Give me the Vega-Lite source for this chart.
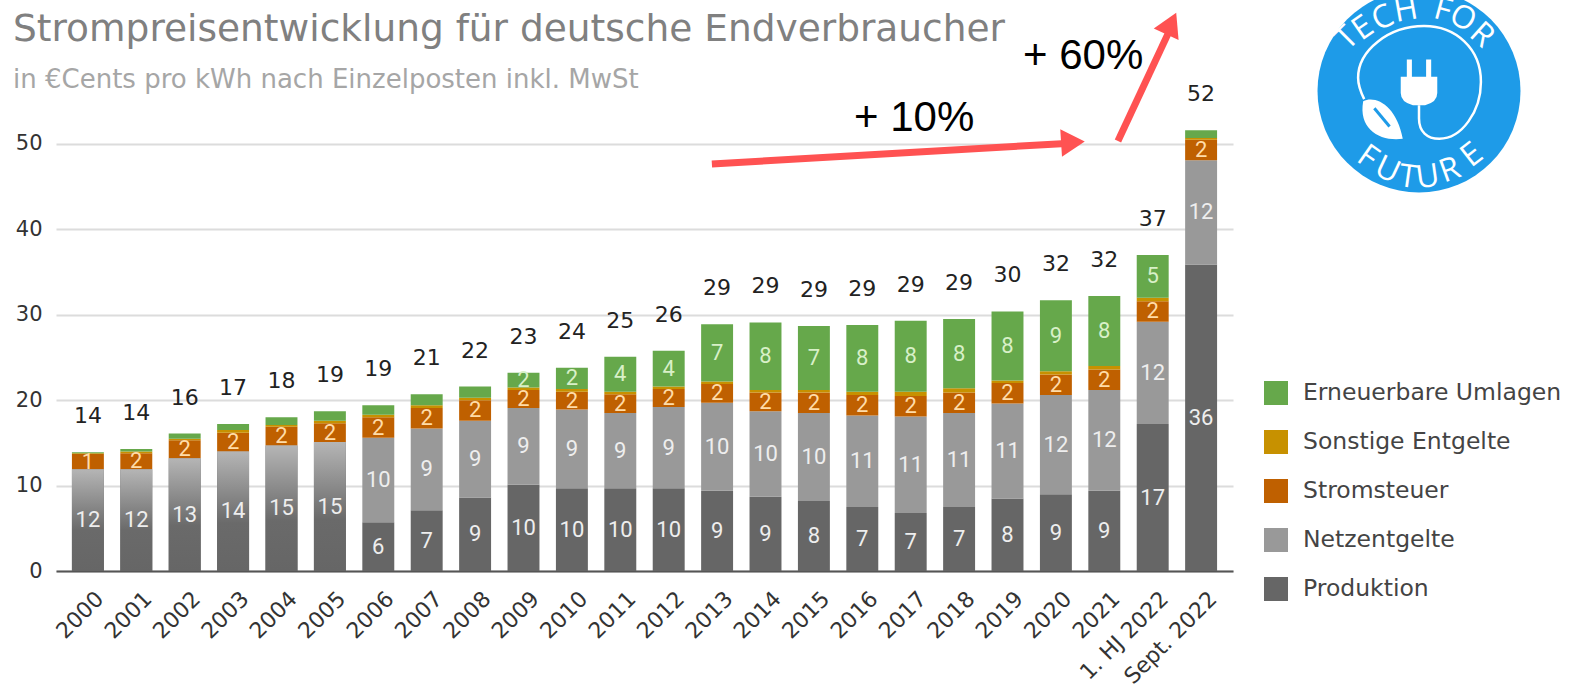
{
"$schema":"https://vega.github.io/schema/vega-lite/v6.json",
"width":1177,"height":561,
"autosize":{"type":"none"},
"padding":{"left":56,"top":10,"right":342,"bottom":121},
"background":"white",
"title":{"text":"Strompreisentwicklung für deutsche Endverbraucher","subtitle":"in €Cents pro kWh nach Einzelposten inkl. MwSt","anchor":"start","frame":"group","dx":-43,"dy":103,"offset":0,"font":"DejaVu Sans","fontSize":37.5,"fontWeight":"normal","color":"#808080","subtitleFont":"DejaVu Sans","subtitleFontSize":26,"subtitleColor":"#a6a6a6","subtitlePadding":18},
"datasets":{
"posten":[
{"jahr":"2000","posten":"Produktion","rang":1,"wert":11.9,"label":"12"},{"jahr":"2000","posten":"Netzentgelte","rang":2,"wert":0,"label":""},{"jahr":"2000","posten":"Stromsteuer","rang":3,"wert":1.8,"label":"1"},{"jahr":"2000","posten":"Sonstige Entgelte","rang":4,"wert":0.1,"label":""},{"jahr":"2000","posten":"Erneuerbare Umlagen","rang":5,"wert":0.1,"label":""},
{"jahr":"2001","posten":"Produktion","rang":1,"wert":11.9,"label":"12"},{"jahr":"2001","posten":"Netzentgelte","rang":2,"wert":0,"label":""},{"jahr":"2001","posten":"Stromsteuer","rang":3,"wert":1.9,"label":"2"},{"jahr":"2001","posten":"Sonstige Entgelte","rang":4,"wert":0.2,"label":""},{"jahr":"2001","posten":"Erneuerbare Umlagen","rang":5,"wert":0.3,"label":""},
{"jahr":"2002","posten":"Produktion","rang":1,"wert":13.2,"label":"13"},{"jahr":"2002","posten":"Netzentgelte","rang":2,"wert":0,"label":""},{"jahr":"2002","posten":"Stromsteuer","rang":3,"wert":2.1,"label":"2"},{"jahr":"2002","posten":"Sonstige Entgelte","rang":4,"wert":0.2,"label":""},{"jahr":"2002","posten":"Erneuerbare Umlagen","rang":5,"wert":0.6,"label":""},
{"jahr":"2003","posten":"Produktion","rang":1,"wert":14,"label":"14"},{"jahr":"2003","posten":"Netzentgelte","rang":2,"wert":0,"label":""},{"jahr":"2003","posten":"Stromsteuer","rang":3,"wert":2.2,"label":"2"},{"jahr":"2003","posten":"Sonstige Entgelte","rang":4,"wert":0.3,"label":""},{"jahr":"2003","posten":"Erneuerbare Umlagen","rang":5,"wert":0.7,"label":""},
{"jahr":"2004","posten":"Produktion","rang":1,"wert":14.7,"label":"15"},{"jahr":"2004","posten":"Netzentgelte","rang":2,"wert":0,"label":""},{"jahr":"2004","posten":"Stromsteuer","rang":3,"wert":2.2,"label":"2"},{"jahr":"2004","posten":"Sonstige Entgelte","rang":4,"wert":0.2,"label":""},{"jahr":"2004","posten":"Erneuerbare Umlagen","rang":5,"wert":0.9,"label":""},
{"jahr":"2005","posten":"Produktion","rang":1,"wert":15.1,"label":"15"},{"jahr":"2005","posten":"Netzentgelte","rang":2,"wert":0,"label":""},{"jahr":"2005","posten":"Stromsteuer","rang":3,"wert":2.2,"label":"2"},{"jahr":"2005","posten":"Sonstige Entgelte","rang":4,"wert":0.3,"label":""},{"jahr":"2005","posten":"Erneuerbare Umlagen","rang":5,"wert":1.1,"label":""},
{"jahr":"2006","posten":"Produktion","rang":1,"wert":5.7,"label":"6"},{"jahr":"2006","posten":"Netzentgelte","rang":2,"wert":9.9,"label":"10"},{"jahr":"2006","posten":"Stromsteuer","rang":3,"wert":2.4,"label":"2"},{"jahr":"2006","posten":"Sonstige Entgelte","rang":4,"wert":0.3,"label":""},{"jahr":"2006","posten":"Erneuerbare Umlagen","rang":5,"wert":1.1,"label":""},
{"jahr":"2007","posten":"Produktion","rang":1,"wert":7.1,"label":"7"},{"jahr":"2007","posten":"Netzentgelte","rang":2,"wert":9.6,"label":"9"},{"jahr":"2007","posten":"Stromsteuer","rang":3,"wert":2.4,"label":"2"},{"jahr":"2007","posten":"Sonstige Entgelte","rang":4,"wert":0.3,"label":""},{"jahr":"2007","posten":"Erneuerbare Umlagen","rang":5,"wert":1.3,"label":""},
{"jahr":"2008","posten":"Produktion","rang":1,"wert":8.6,"label":"9"},{"jahr":"2008","posten":"Netzentgelte","rang":2,"wert":9,"label":"9"},{"jahr":"2008","posten":"Stromsteuer","rang":3,"wert":2.4,"label":"2"},{"jahr":"2008","posten":"Sonstige Entgelte","rang":4,"wert":0.3,"label":""},{"jahr":"2008","posten":"Erneuerbare Umlagen","rang":5,"wert":1.3,"label":""},
{"jahr":"2009","posten":"Produktion","rang":1,"wert":10.1,"label":"10"},{"jahr":"2009","posten":"Netzentgelte","rang":2,"wert":9,"label":"9"},{"jahr":"2009","posten":"Stromsteuer","rang":3,"wert":2.1,"label":"2"},{"jahr":"2009","posten":"Sonstige Entgelte","rang":4,"wert":0.3,"label":""},{"jahr":"2009","posten":"Erneuerbare Umlagen","rang":5,"wert":1.7,"label":"2"},
{"jahr":"2010","posten":"Produktion","rang":1,"wert":9.7,"label":"10"},{"jahr":"2010","posten":"Netzentgelte","rang":2,"wert":9.2,"label":"9"},{"jahr":"2010","posten":"Stromsteuer","rang":3,"wert":2.1,"label":"2"},{"jahr":"2010","posten":"Sonstige Entgelte","rang":4,"wert":0.3,"label":""},{"jahr":"2010","posten":"Erneuerbare Umlagen","rang":5,"wert":2.5,"label":"2"},
{"jahr":"2011","posten":"Produktion","rang":1,"wert":9.7,"label":"10"},{"jahr":"2011","posten":"Netzentgelte","rang":2,"wert":8.8,"label":"9"},{"jahr":"2011","posten":"Stromsteuer","rang":3,"wert":2.2,"label":"2"},{"jahr":"2011","posten":"Sonstige Entgelte","rang":4,"wert":0.3,"label":""},{"jahr":"2011","posten":"Erneuerbare Umlagen","rang":5,"wert":4.1,"label":"4"},
{"jahr":"2012","posten":"Produktion","rang":1,"wert":9.7,"label":"10"},{"jahr":"2012","posten":"Netzentgelte","rang":2,"wert":9.5,"label":"9"},{"jahr":"2012","posten":"Stromsteuer","rang":3,"wert":2.1,"label":"2"},{"jahr":"2012","posten":"Sonstige Entgelte","rang":4,"wert":0.3,"label":""},{"jahr":"2012","posten":"Erneuerbare Umlagen","rang":5,"wert":4.2,"label":"4"},
{"jahr":"2013","posten":"Produktion","rang":1,"wert":9.4,"label":"9"},{"jahr":"2013","posten":"Netzentgelte","rang":2,"wert":10.3,"label":"10"},{"jahr":"2013","posten":"Stromsteuer","rang":3,"wert":2.2,"label":"2"},{"jahr":"2013","posten":"Sonstige Entgelte","rang":4,"wert":0.3,"label":""},{"jahr":"2013","posten":"Erneuerbare Umlagen","rang":5,"wert":6.7,"label":"7"},
{"jahr":"2014","posten":"Produktion","rang":1,"wert":8.7,"label":"9"},{"jahr":"2014","posten":"Netzentgelte","rang":2,"wert":10,"label":"10"},{"jahr":"2014","posten":"Stromsteuer","rang":3,"wert":2.2,"label":"2"},{"jahr":"2014","posten":"Sonstige Entgelte","rang":4,"wert":0.3,"label":""},{"jahr":"2014","posten":"Erneuerbare Umlagen","rang":5,"wert":7.9,"label":"8"},
{"jahr":"2015","posten":"Produktion","rang":1,"wert":8.2,"label":"8"},{"jahr":"2015","posten":"Netzentgelte","rang":2,"wert":10.3,"label":"10"},{"jahr":"2015","posten":"Stromsteuer","rang":3,"wert":2.4,"label":"2"},{"jahr":"2015","posten":"Sonstige Entgelte","rang":4,"wert":0.3,"label":""},{"jahr":"2015","posten":"Erneuerbare Umlagen","rang":5,"wert":7.5,"label":"7"},
{"jahr":"2016","posten":"Produktion","rang":1,"wert":7.5,"label":"7"},{"jahr":"2016","posten":"Netzentgelte","rang":2,"wert":10.7,"label":"11"},{"jahr":"2016","posten":"Stromsteuer","rang":3,"wert":2.4,"label":"2"},{"jahr":"2016","posten":"Sonstige Entgelte","rang":4,"wert":0.4,"label":""},{"jahr":"2016","posten":"Erneuerbare Umlagen","rang":5,"wert":7.8,"label":"8"},
{"jahr":"2017","posten":"Produktion","rang":1,"wert":6.8,"label":"7"},{"jahr":"2017","posten":"Netzentgelte","rang":2,"wert":11.3,"label":"11"},{"jahr":"2017","posten":"Stromsteuer","rang":3,"wert":2.4,"label":"2"},{"jahr":"2017","posten":"Sonstige Entgelte","rang":4,"wert":0.5,"label":""},{"jahr":"2017","posten":"Erneuerbare Umlagen","rang":5,"wert":8.3,"label":"8"},
{"jahr":"2018","posten":"Produktion","rang":1,"wert":7.5,"label":"7"},{"jahr":"2018","posten":"Netzentgelte","rang":2,"wert":11,"label":"11"},{"jahr":"2018","posten":"Stromsteuer","rang":3,"wert":2.4,"label":"2"},{"jahr":"2018","posten":"Sonstige Entgelte","rang":4,"wert":0.5,"label":""},{"jahr":"2018","posten":"Erneuerbare Umlagen","rang":5,"wert":8.1,"label":"8"},
{"jahr":"2019","posten":"Produktion","rang":1,"wert":8.5,"label":"8"},{"jahr":"2019","posten":"Netzentgelte","rang":2,"wert":11.1,"label":"11"},{"jahr":"2019","posten":"Stromsteuer","rang":3,"wert":2.4,"label":"2"},{"jahr":"2019","posten":"Sonstige Entgelte","rang":4,"wert":0.3,"label":""},{"jahr":"2019","posten":"Erneuerbare Umlagen","rang":5,"wert":8.1,"label":"8"},
{"jahr":"2020","posten":"Produktion","rang":1,"wert":9,"label":"9"},{"jahr":"2020","posten":"Netzentgelte","rang":2,"wert":11.6,"label":"12"},{"jahr":"2020","posten":"Stromsteuer","rang":3,"wert":2.4,"label":"2"},{"jahr":"2020","posten":"Sonstige Entgelte","rang":4,"wert":0.4,"label":""},{"jahr":"2020","posten":"Erneuerbare Umlagen","rang":5,"wert":8.3,"label":"9"},
{"jahr":"2021","posten":"Produktion","rang":1,"wert":9.4,"label":"9"},{"jahr":"2021","posten":"Netzentgelte","rang":2,"wert":11.8,"label":"12"},{"jahr":"2021","posten":"Stromsteuer","rang":3,"wert":2.4,"label":"2"},{"jahr":"2021","posten":"Sonstige Entgelte","rang":4,"wert":0.4,"label":""},{"jahr":"2021","posten":"Erneuerbare Umlagen","rang":5,"wert":8.2,"label":"8"},
{"jahr":"1. HJ 2022","posten":"Produktion","rang":1,"wert":17.2,"label":"17"},{"jahr":"1. HJ 2022","posten":"Netzentgelte","rang":2,"wert":12,"label":"12"},{"jahr":"1. HJ 2022","posten":"Stromsteuer","rang":3,"wert":2.4,"label":"2"},{"jahr":"1. HJ 2022","posten":"Sonstige Entgelte","rang":4,"wert":0.4,"label":""},{"jahr":"1. HJ 2022","posten":"Erneuerbare Umlagen","rang":5,"wert":5,"label":"5"},
{"jahr":"Sept. 2022","posten":"Produktion","rang":1,"wert":35.9,"label":"36"},{"jahr":"Sept. 2022","posten":"Netzentgelte","rang":2,"wert":12.2,"label":"12"},{"jahr":"Sept. 2022","posten":"Stromsteuer","rang":3,"wert":2.4,"label":"2"},{"jahr":"Sept. 2022","posten":"Sonstige Entgelte","rang":4,"wert":0.2,"label":""},{"jahr":"Sept. 2022","posten":"Erneuerbare Umlagen","rang":5,"wert":0.9,"label":""}
],
"gesamt":[
{"jahr":"2000","summe":13.9,"label":"14"},{"jahr":"2001","summe":14.3,"label":"14"},{"jahr":"2002","summe":16.1,"label":"16"},{"jahr":"2003","summe":17.2,"label":"17"},{"jahr":"2004","summe":18,"label":"18"},{"jahr":"2005","summe":18.7,"label":"19"},{"jahr":"2006","summe":19.4,"label":"19"},{"jahr":"2007","summe":20.7,"label":"21"},{"jahr":"2008","summe":21.6,"label":"22"},{"jahr":"2009","summe":23.2,"label":"23"},{"jahr":"2010","summe":23.8,"label":"24"},{"jahr":"2011","summe":25.1,"label":"25"},{"jahr":"2012","summe":25.8,"label":"26"},{"jahr":"2013","summe":28.9,"label":"29"},{"jahr":"2014","summe":29.1,"label":"29"},{"jahr":"2015","summe":28.7,"label":"29"},{"jahr":"2016","summe":28.8,"label":"29"},{"jahr":"2017","summe":29.3,"label":"29"},{"jahr":"2018","summe":29.5,"label":"29"},{"jahr":"2019","summe":30.4,"label":"30"},{"jahr":"2020","summe":31.7,"label":"32"},{"jahr":"2021","summe":32.2,"label":"32"},{"jahr":"1. HJ 2022","summe":37,"label":"37"},{"jahr":"Sept. 2022","summe":51.6,"label":"52"}
],
"frueh":[{"jahr":"2000","wert":11.9},{"jahr":"2001","wert":11.9},{"jahr":"2002","wert":13.2},{"jahr":"2003","wert":14},{"jahr":"2004","wert":14.7},{"jahr":"2005","wert":15.1}],
"logo":[{"x":27.5,"y":56.2}],
"buchstaben":[
{"x":26.01,"y":62.41,"z":"T","w":-45},{"x":26.34,"y":63.58,"z":"E","w":-35},{"x":26.75,"y":64.75,"z":"C","w":-25},{"x":27.23,"y":65.69,"z":"H","w":-10},{"x":27.99,"y":65.69,"z":"F","w":15},{"x":28.41,"y":64.75,"z":"O","w":28},{"x":28.8,"y":62.76,"z":"R","w":42},
{"x":26.44,"y":48.48,"z":"F","w":35},{"x":26.85,"y":46.96,"z":"U","w":25},{"x":27.27,"y":46.14,"z":"T","w":8},{"x":27.68,"y":46.14,"z":"U","w":-8},{"x":28.14,"y":46.96,"z":"R","w":-20},{"x":28.59,"y":48.71,"z":"E","w":-38}
],
"pfeile":[{"x":12.89,"y":47.66,"x2":20.3,"y2":50.1},{"x":21.28,"y":50.35,"x2":22.33,"y2":63.1}],
"prozent":[{"x":17.07,"y":53.1,"t":"+ 10%"},{"x":20.56,"y":60.3,"t":"+ 60%"}]
},
"layer":[
{
"encoding":{"x":{"field":"jahr","type":"nominal","title":null,"sort":null,"scale":{"domain":["2000","2001","2002","2003","2004","2005","2006","2007","2008","2009","2010","2011","2012","2013","2014","2015","2016","2017","2018","2019","2020","2021","1. HJ 2022","Sept. 2022"],"paddingInner":0.34,"paddingOuter":0.329},"axis":{"labelAngle":-45,"labelAlign":"right","labelBaseline":"middle","labelFont":"DejaVu Sans","labelFontSize":22,"labelColor":"#333333","labelPadding":24,"labelOffset":12,"ticks":false,"domainColor":"#555555","domainWidth":2,"grid":false,"labelOverlap":false}}},
"layer":[
{"data":{"name":"posten"},"mark":{"type":"bar"},
 "encoding":{"y":{"field":"wert","type":"quantitative","stack":"zero","title":null,"scale":{"domain":[0,65.69],"nice":false,"zero":false},"axis":{"values":[0,10,20,30,40,50],"labelFont":"DejaVu Sans","labelFontSize":21,"labelColor":"#333333","labelPadding":14,"ticks":false,"domain":false,"grid":true,"gridColor":"#dcdcdc","gridWidth":2}},
 "color":{"field":"posten","type":"nominal","title":null,"scale":{"domain":["Erneuerbare Umlagen","Sonstige Entgelte","Stromsteuer","Netzentgelte","Produktion"],"range":["#66A84B","#C79100","#BF6000","#999999","#666666"]},"legend":{"orient":"none","legendX":1208,"legendY":371,"symbolType":"square","symbolSize":576,"symbolStrokeWidth":0,"symbolOpacity":1,"labelFont":"DejaVu Sans","labelFontSize":23.5,"labelColor":"#444444","labelOffset":15,"labelLimit":400,"rowPadding":25}},
 "order":{"field":"rang","type":"quantitative"}}},
{"data":{"name":"frueh"},"mark":{"type":"bar","color":{"gradient":"linear","x1":0,"y1":0,"x2":0,"y2":1,"stops":[{"offset":0,"color":"#B5B5B5"},{"offset":0.6,"color":"#6A6A6A"},{"offset":1,"color":"#666666"}]}},
 "encoding":{"y":{"field":"wert","type":"quantitative"}}},
{"data":{"name":"posten"},"mark":{"type":"text","font":"Roboto","fontSize":22,"baseline":"middle"},
 "encoding":{"y":{"field":"wert","type":"quantitative","stack":"zero","bandPosition":0.5},"text":{"field":"label"},"detail":{"field":"posten"},"order":{"field":"rang","type":"quantitative"},
 "color":{"condition":[{"test":"datum.posten==='Stromsteuer'","value":"#FFDCA8"},{"test":"datum.posten==='Erneuerbare Umlagen'","value":"#D8F0C8"}],"value":"#EEEEEE"}}},
{"data":{"name":"gesamt"},"mark":{"type":"text","font":"DejaVu Sans","fontSize":22,"color":"#222222","baseline":"middle","dy":-36},
 "encoding":{"y":{"field":"summe","type":"quantitative"},"text":{"field":"label"}}}
]
},
{
"encoding":{
 "x":{"field":"x","type":"quantitative","axis":null,"scale":{"domain":[-0.661,23.657],"nice":false,"zero":false}},
 "y":{"field":"y","type":"quantitative","axis":null,"scale":{"domain":[0,65.69],"nice":false,"zero":false}}},
"layer":[
{"data":{"name":"logo"},"mark":{"type":"point","shape":"circle","filled":true,"size":41209,"color":"#1E9BE8","opacity":1,"clip":false}},
{"data":{"name":"logo"},"mark":{"type":"point","filled":false,"stroke":"#FFFFFF","strokeWidth":2.5,"opacity":1,"size":41209,"shape":"M0 .14 L0 .27 C0 .4 .08 .47 .2 .47 C.42 .47 .61 .2 .61 -.09 C.61 -.42 .36 -.64 .05 -.64 C-.3 -.64 -.6 -.4 -.6 -.13 C-.6 -.05 -.57 .02 -.54 .08"}},
{"data":{"name":"logo"},"mark":{"type":"point","filled":true,"fill":"#FFFFFF","opacity":1,"size":41209,"shape":"M-.12 -.31 L-.07 -.31 L-.07 -.14 L.07 -.14 L.07 -.31 L.12 -.31 L.12 -.14 L.18 -.14 L.18 .02 Q.18 .11 .06 .14 L-.06 .14 Q-.18 .11 -.18 .02 L-.18 -.14 L-.12 -.14 Z M-.55 .1 C-.42 .04 -.22 .15 -.16 .47 C-.38 .5 -.6 .38 -.55 .1 Z"}},
{"data":{"name":"logo"},"mark":{"type":"point","filled":false,"stroke":"#1E9BE8","strokeWidth":3,"opacity":1,"size":41209,"shape":"M-.44 .17 L-.29 .35"}},
{"data":{"name":"buchstaben"},"mark":{"type":"text","font":"Open Sans","fontSize":32,"color":"#FFFFFF","baseline":"middle","align":"center"},"encoding":{"text":{"field":"z"},"angle":{"field":"w","type":"quantitative","scale":null}}},
{"data":{"name":"pfeile"},"mark":{"type":"rule","color":"#FF5252","strokeWidth":7,"clip":false},"encoding":{"x2":{"field":"x2"},"y2":{"field":"y2"}}},
{"data":{"values":[{"x":20.35,"y":50.2}]},"mark":{"type":"point","shape":"triangle-up","filled":true,"color":"#FF5252","opacity":1,"size":750,"angle":86.4}},
{"data":{"values":[{"x":22.38,"y":64.1}]},"mark":{"type":"point","shape":"triangle-up","filled":true,"color":"#FF5252","opacity":1,"size":750,"angle":25}},
{"data":{"name":"prozent"},"mark":{"type":"text","font":"Liberation Sans","fontSize":42,"color":"#000000","baseline":"middle"},"encoding":{"text":{"field":"t"}}}
]
}
],
"resolve":{"scale":{"x":"independent","y":"independent"}},
"config":{"view":{"stroke":null},"axis":{"title":null}}
}
